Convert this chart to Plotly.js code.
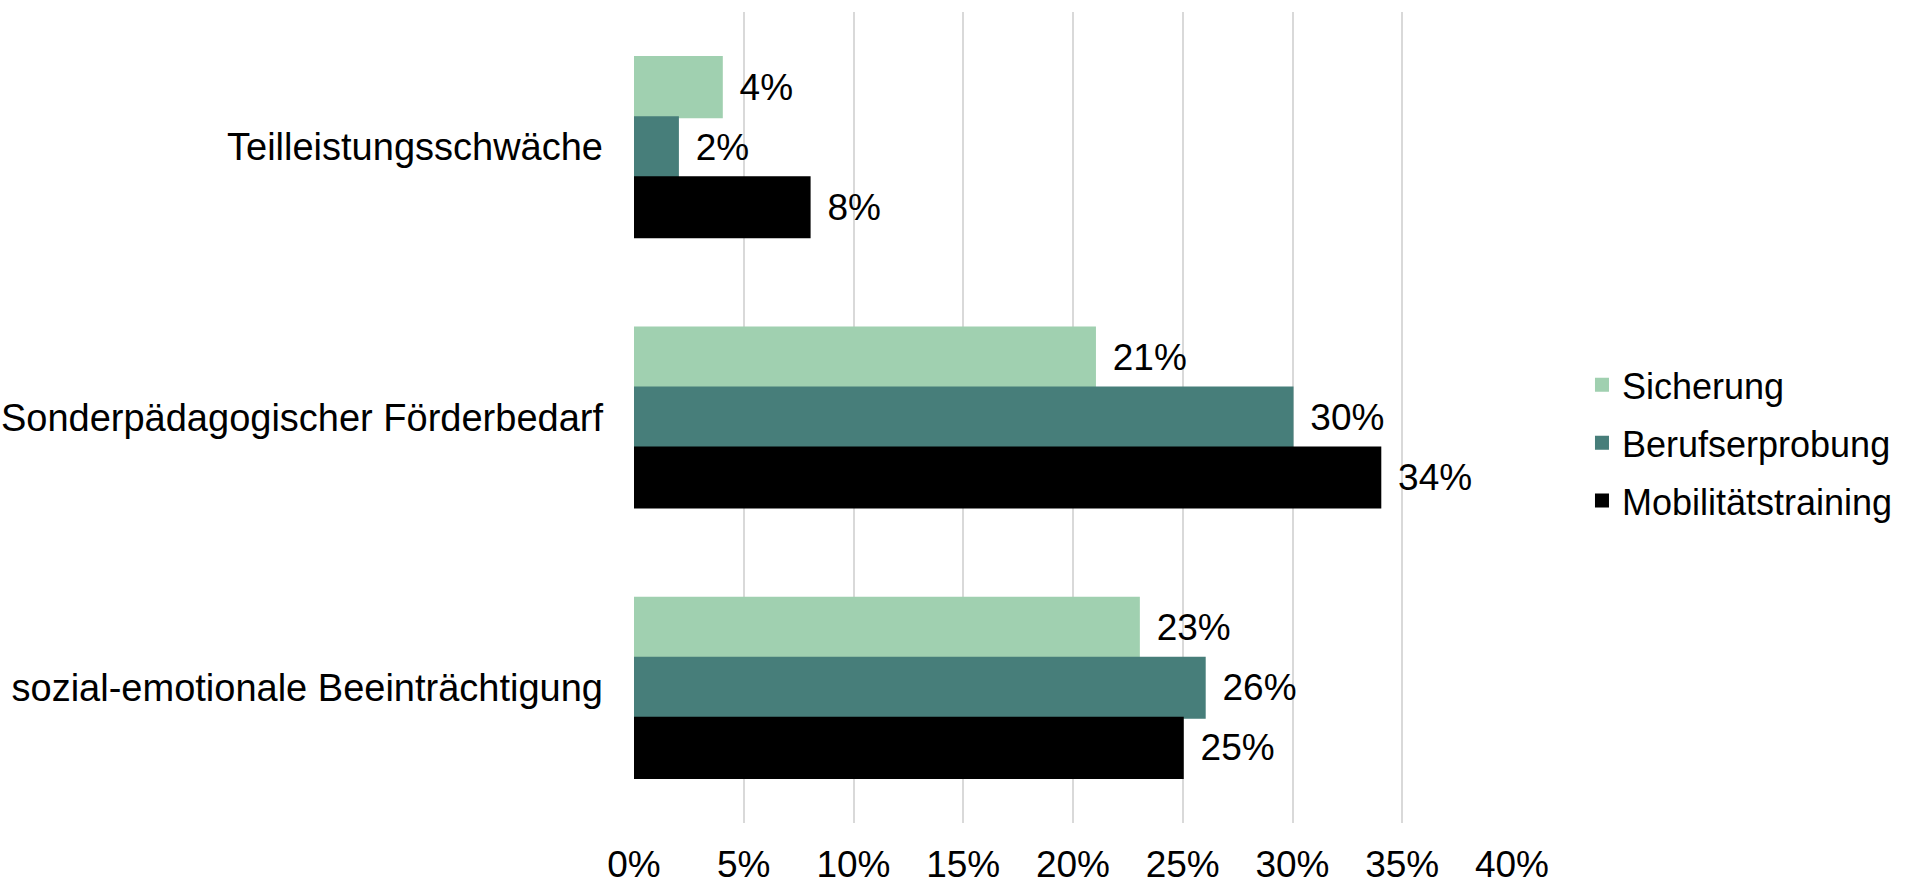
<!DOCTYPE html>
<html>
<head>
<meta charset="utf-8">
<script src="https://cdn.plot.ly/plotly-3.0.1.min.js"></script>
<style>html,body{margin:0;padding:0;background:#fff;}#chart{width:1906px;height:884px;}</style>
</head>
<body>
<div id="chart"></div>
<script>
const categories = ["Teilleistungsschwäche", "Sonderpädagogischer Förderbedarf", "sozial-emotionale Beeinträchtigung"];
const seriesNames = ["Sicherung", "Berufserprobung", "Mobilitätstraining"];
const sicherung = [4, 21, 23];
const berufserprobung = [2, 30, 26];
const mobilitaetstraining = [8, 34, 25];
const xTickValues = [0, 5, 10, 15, 20, 25, 30, 35, 40];
const xTickLabels = ["0%", "5%", "10%", "15%", "20%", "25%", "30%", "35%", "40%"];

const colors = ["#A0D0B0", "#477E7A", "#000000"];
const seriesValues = [sicherung, berufserprobung, mobilitaetstraining];
const fontFam = "Liberation Sans, Arial, sans-serif";
const fs = 37;

const traces = seriesValues.map((vals, i) => ({
  type: "bar",
  orientation: "h",
  name: seriesNames[i],
  legendgroup: "g" + i,
  y: categories,
  x: vals,
  marker: {color: colors[i], line: {width: 2, color: colors[i]}},
  text: vals.map(v => "\u2009\u2009" + v + "%"),
  texttemplate: "%{text}",
  textposition: "outside",
  textfont: {family: fontFam, size: fs, color: "#000"},
  cliponaxis: false,
  hoverinfo: "skip"
}));

const layout = {
  width: 1906,
  height: 884,
  margin: {l: 634, r: 394, t: 12, b: 61, autoexpand: false},
  paper_bgcolor: "#fff",
  plot_bgcolor: "#fff",
  barmode: "group",
  bargap: 0.3333,
  bargroupgap: 0,
  font: {family: fontFam, size: fs, color: "#000"},
  xaxis: {
    range: [0, 40],
    tickvals: xTickValues,
    ticktext: xTickLabels,
    showgrid: true,
    gridcolor: "#d9d9d9",
    gridwidth: 2,
    zeroline: false,
    showline: false,
    ticks: "",
    ticklabelstandoff: 16,
    tickfont: {family: fontFam, size: fs, color: "#000"},
    automargin: false,
    fixedrange: true
  },
  yaxis: {
    autorange: "reversed",
    type: "category",
    showgrid: false,
    zeroline: false,
    showline: false,
    ticks: "",
    ticklabelstandoff: 30,
    tickfont: {family: fontFam, size: 38, color: "#000"},
    automargin: false,
    fixedrange: true
  },
  showlegend: true,
  legend: {
    xref: "container",
    yref: "container",
    x: 0.830,
    xanchor: "left",
    y: 0.4989,
    yanchor: "middle",
    traceorder: "grouped",
    tracegroupgap: 8,
    font: {family: fontFam, size: 36, color: "#000"},
    bgcolor: "rgba(0,0,0,0)"
  }
};

Plotly.newPlot("chart", traces, layout, {staticPlot: true, displayModeBar: false});
</script>
</body>
</html>
